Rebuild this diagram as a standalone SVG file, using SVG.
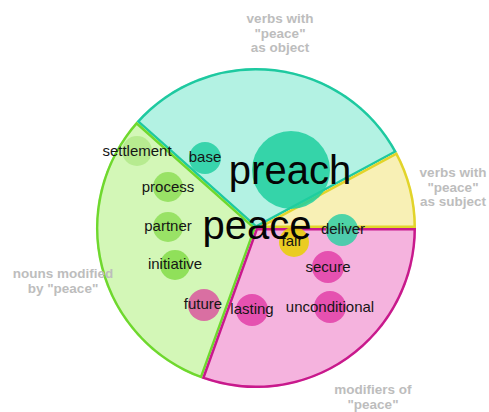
<svg xmlns="http://www.w3.org/2000/svg" width="489" height="412" viewBox="0 0 489 412">
<style>
.cat{font-family:"Liberation Sans",Arial,sans-serif;font-size:13.5px;font-weight:bold;fill:#bdbdbd;text-anchor:middle}
.w{font-family:"Liberation Sans",Arial,sans-serif;font-size:15px;fill:#151515;text-anchor:middle}
.big{font-family:"Liberation Sans",Arial,sans-serif;font-size:40px;fill:#050505;text-anchor:middle}
.sec{stroke-width:5}
.b{opacity:0.85}
</style>
<defs>
<path id="pTeal" d="M256,228 L396.9,152.1 A160,160 0 0 0 136.5,121.6 Z"/>
<path id="pYel" d="M256,228 L416,228 A160,160 0 0 0 396.9,152.1 Z"/>
<path id="pGrn" d="M256,228 L136.5,121.6 A160,160 0 0 0 201.8,378.6 Z"/>
<path id="pPnk" d="M256,228 L201.8,378.6 A160,160 0 0 0 416,228 Z"/>
<clipPath id="cTeal"><use href="#pTeal"/></clipPath>
<clipPath id="cYel"><use href="#pYel"/></clipPath>
<clipPath id="cGrn"><use href="#pGrn"/></clipPath>
<clipPath id="cPnk"><use href="#pPnk"/></clipPath>
</defs>
<g id="sectors">
<g id="sector-object"><use href="#pTeal" class="sec" fill="#b3f2e3" stroke="#1ec9a0" clip-path="url(#cTeal)"/></g>
<g id="sector-subject"><use href="#pYel" class="sec" fill="#f8f0b5" stroke="#e2d42a" clip-path="url(#cYel)"/></g>
<g id="sector-nouns"><use href="#pGrn" class="sec" fill="#d3f7b7" stroke="#6fd82e" clip-path="url(#cGrn)"/></g>
<g id="sector-modifiers"><use href="#pPnk" class="sec" fill="#f5b3de" stroke="#c8198c" clip-path="url(#cPnk)"/></g>
</g>
<g id="labels">
<text class="cat" x="280" y="23">verbs with</text>
<text class="cat" x="280" y="37.5">"peace"</text>
<text class="cat" x="280" y="52">as object</text>
<text class="cat" x="453" y="177">verbs with</text>
<text class="cat" x="453" y="191.5">"peace"</text>
<text class="cat" x="453" y="206">as subject</text>
<text class="cat" x="63" y="278">nouns modified</text>
<text class="cat" x="63" y="292.5">by "peace"</text>
<text class="cat" x="373" y="394">modifiers of</text>
<text class="cat" x="373" y="408.5">"peace"</text>
</g>
<g id="connectors"></g>
<g id="node-preach"><circle class="b" cx="291" cy="170" r="39" fill="#1ecf9f"/><text class="big" x="290" y="184">preach</text></g>
<g id="node-base"><circle class="b" cx="205" cy="158" r="16" fill="#22cfa2"/><text class="w" x="205" y="162">base</text></g>
<g id="node-settlement"><circle class="b" cx="137" cy="151" r="15" fill="#b2e98a"/><text class="w" x="137" y="156">settlement</text></g>
<g id="node-process"><circle class="b" cx="168" cy="187" r="15" fill="#8ede58"/><text class="w" x="168" y="192">process</text></g>
<g id="node-partner"><circle class="b" cx="168" cy="227" r="15" fill="#8ede58"/><text class="w" x="168" y="231">partner</text></g>
<g id="node-initiative"><circle class="b" cx="175" cy="265" r="15" fill="#84dc4a"/><text class="w" x="175" y="269">initiative</text></g>
<g id="node-fair"><circle class="b" cx="294" cy="242" r="15" fill="#e8d000"/><text class="w" x="292" y="246">fair</text></g>
<g id="node-deliver"><circle class="b" cx="342" cy="230" r="16" fill="#30cfa4"/><text class="w" x="343" y="234">deliver</text></g>
<g id="node-secure"><circle class="b" cx="328" cy="267" r="16" fill="#e23fa8"/><text class="w" x="328" y="272">secure</text></g>
<g id="node-future"><circle class="b" cx="204" cy="305" r="16" fill="#d9579f"/><text class="w" x="203" y="309">future</text></g>
<g id="node-lasting"><circle class="b" cx="252" cy="310" r="16" fill="#e23fa8"/><text class="w" x="252" y="314">lasting</text></g>
<g id="node-unconditional"><circle class="b" cx="330" cy="307" r="16" fill="#e23fa8"/><text class="w" x="330" y="312">unconditional</text></g>
<g id="node-peace"><text class="big" x="257" y="239">peace</text></g>
</svg>
